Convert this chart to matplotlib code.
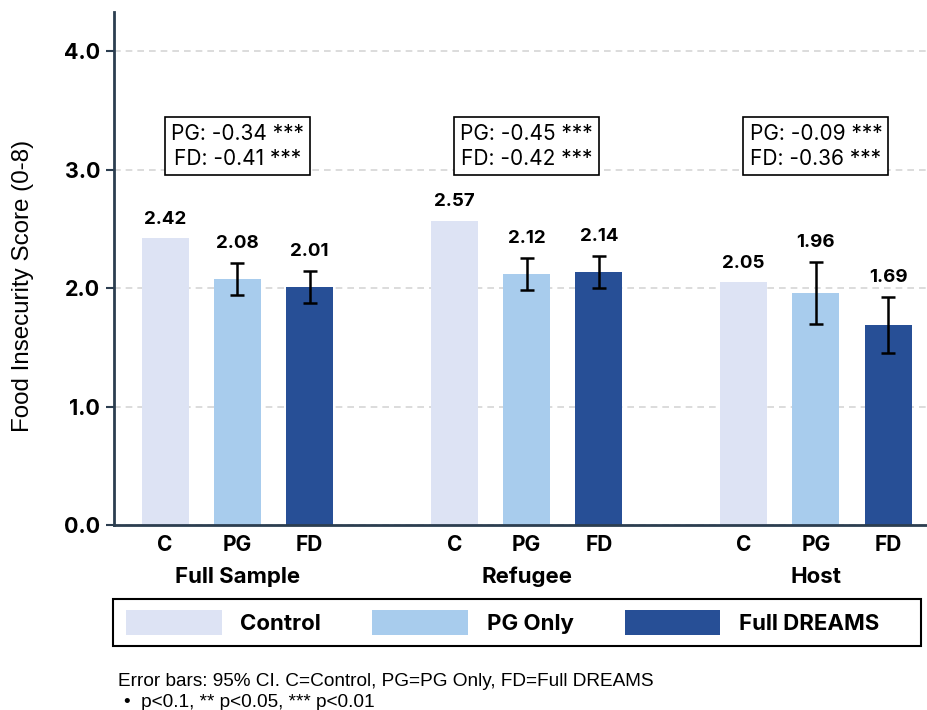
import matplotlib
matplotlib.use("Agg")
import matplotlib.pyplot as plt
import numpy as np
from matplotlib.patches import Patch, Rectangle

plt.rcParams["font.family"] = ["Inter", "DejaVu Sans"]

groups = ["Full Sample", "Refugee", "Host"]
arms = ["C", "PG", "FD"]
arm_names = ["Control", "PG Only", "Full DREAMS"]
colors = ["#dde3f4", "#a8cced", "#274f96"]

# mean scores per group (rows) and arm (columns)
means = [
    [2.42, 2.08, 2.01],
    [2.57, 2.12, 2.14],
    [2.05, 1.96, 1.69],
]
# 95% CI half widths; control has none
ci = [
    [0.0, 0.135, 0.135],
    [0.0, 0.135, 0.135],
    [0.0, 0.265, 0.235],
]
effects = [
    ["PG: -0.34 ***", "FD: -0.41 ***"],
    ["PG: -0.45 ***", "FD: -0.42 ***"],
    ["PG: -0.09 ***", "FD: -0.36 ***"],
]

fig = plt.figure(figsize=(9.28, 7.1), dpi=100)
ax = fig.add_axes([0.123, 0.2606, 0.877, 0.722])

width = 0.65
for g in range(len(groups)):
    base = g * 4
    for a in range(len(arms)):
        x = base + a
        ax.bar(x, means[g][a], width=width, color=colors[a], zorder=2)
        if ci[g][a] > 0:
            ax.errorbar(x, means[g][a], yerr=ci[g][a], fmt="none", ecolor="black",
                        elinewidth=1.8, capsize=5, capthick=1.8, zorder=3)
        top = means[g][a] + ci[g][a]
        ax.text(x, top + 0.09, f"{means[g][a]:.2f}", ha="center", va="bottom",
                fontsize=13.5, fontweight="bold")
    ax.text(base + 1, 3.2, effects[g][0] + "\n" + effects[g][1], ha="center", va="center",
            fontsize=15, linespacing=1.3,
            bbox=dict(boxstyle="square,pad=0.3", facecolor="white", edgecolor="black", linewidth=1.2),
            zorder=4)

xpos = [g * 4 + a for g in range(len(groups)) for a in range(len(arms))]
ax.set_xticks(xpos)
ax.set_xticklabels(arms * len(groups), fontsize=15, fontweight="bold")
ax.tick_params(axis="x", length=0, pad=7)
for g in range(len(groups)):
    ax.text(g * 4 + 1, -0.44, groups[g], ha="center", va="center",
            fontsize=16, fontweight="bold", transform=ax.transData)

ax.set_xlim(-0.705, 10.55)
ax.set_ylim(0, 4.33)
ax.set_yticks([0, 1, 2, 3, 4])
ax.set_yticklabels([f"{v:.1f}" for v in [0, 1, 2, 3, 4]], fontsize=15.5, fontweight="bold")
ax.tick_params(axis="y", length=6, width=1.5, color="#2c3e50", pad=4)
ax.yaxis.grid(True, linestyle=(0, (4, 3)), color="#d5d5d5", linewidth=1.2, zorder=0)
ax.set_axisbelow(True)
ax.set_ylabel("Food Insecurity Score (0-8)", fontsize=17.4, family=["Liberation Sans", "DejaVu Sans"])
ax.yaxis.set_label_coords(-0.099, 0.466)

for side in ["top", "right"]:
    ax.spines[side].set_visible(False)
for side in ["left", "bottom"]:
    ax.spines[side].set_color("#2c3e50")
    ax.spines[side].set_linewidth(2)

# legend entries packed from the left inside a wide outlined box
handles = [Patch(facecolor=c, edgecolor="none") for c in colors]
fig.legend(handles, arm_names, loc="center left", bbox_to_anchor=(0.1358, 0.1233),
           ncol=3, frameon=False, borderaxespad=0, borderpad=0,
           handlelength=4.3, handleheight=1.3, handletextpad=0.85, columnspacing=2.3,
           prop={"weight": "bold", "size": 16})
fig.patches.append(Rectangle((0.1218, 0.0901), 0.8707, 0.0662, transform=fig.transFigure,
                             fill=False, edgecolor="black", linewidth=1.5))

fig.text(0.127, 0.040, "Error bars: 95% CI. C=Control, PG=PG Only, FD=Full DREAMS",
         fontsize=13.7, family=["Liberation Sans", "DejaVu Sans"], va="center")
fig.text(0.134, 0.010, "\u2022  p<0.1, ** p<0.05, *** p<0.01",
         fontsize=13.7, family=["Liberation Sans", "DejaVu Sans"], va="center")

fig.savefig("out.png", dpi=100)
